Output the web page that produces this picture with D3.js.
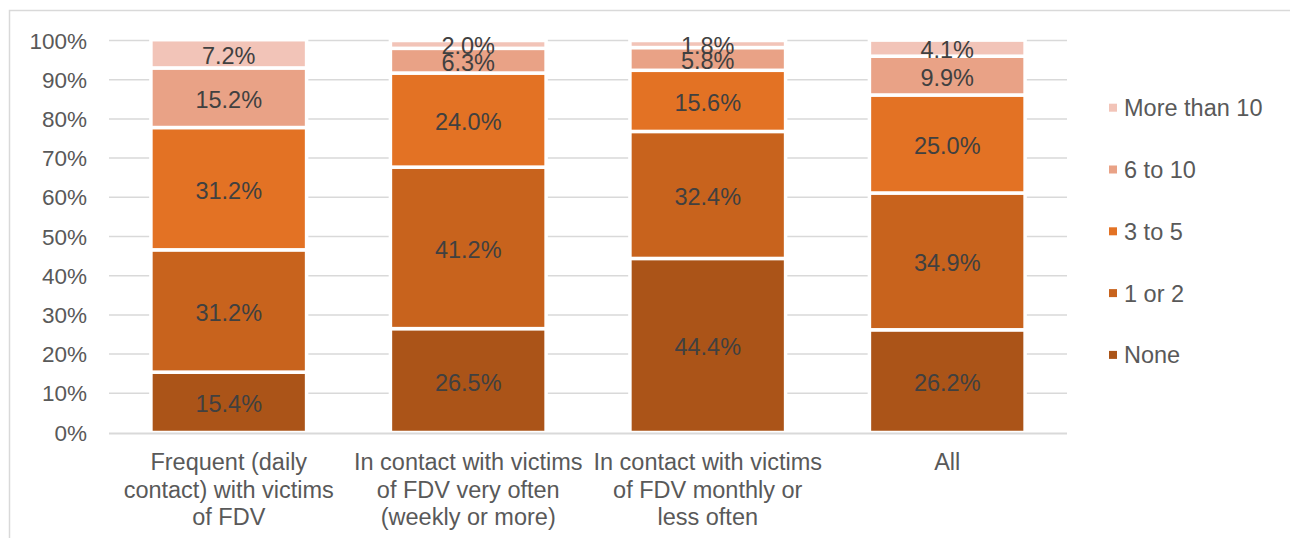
<!DOCTYPE html>
<html>
<head>
<meta charset="utf-8">
<script src="https://cdn.jsdelivr.net/npm/d3@7"></script>
<style>
  body { margin: 0; background: #fff; }
  svg { display: block; font-family: "Liberation Sans", Arial, sans-serif; }
</style>
</head>
<body>
<svg id="chart" width="1290" height="538"></svg>
<script>
// categories (x axis), each label split into its lines
var categories = ["frequent", "weekly", "monthly", "all"];
var categoryLines = [
    ["Frequent (daily", "contact) with victims", "of FDV"],
    ["In contact with victims", "of FDV very often", "(weekly or more)"],
    ["In contact with victims", "of FDV monthly or", "less often"],
    ["All"]
];

// series, bottom to top of the stack
var seriesNames = ["None", "1 or 2", "3 to 5", "6 to 10", "More than 10"];
var seriesColors = ["#ab5418", "#c8631d", "#e37224", "#e9a286", "#f2c4b8"];

// values (%) per series, one per category
var noneValues = [15.4, 26.5, 44.4, 26.2];
var oneTwoValues = [31.2, 41.2, 32.4, 34.9];
var threeFiveValues = [31.2, 24.0, 15.6, 25.0];
var sixTenValues = [15.2, 6.3, 5.8, 9.9];
var moreTenValues = [7.2, 2.0, 1.8, 4.1];

var yTicks = [0, 10, 20, 30, 40, 50, 60, 70, 80, 90, 100];

var svg = d3.select("#chart");

// outer frame of the chart object
svg.append("rect")
    .attr("x", 9.5).attr("y", 10.5)
    .attr("width", 1400).attr("height", 600)
    .attr("fill", "none")
    .attr("stroke", "#d9d9d9")
    .attr("stroke-width", 1.5);

var x = d3.scaleBand()
    .domain(categories)
    .range([109, 1067])
    .paddingInner(0.35)
    .paddingOuter(0.175);

var y = d3.scaleLinear()
    .domain([0, 100])
    .range([432.5, 40.5]);

// build rows for the stack
var table = categories.map(function(c, i) {
    return {
        cat: c,
        "None": noneValues[i],
        "1 or 2": oneTwoValues[i],
        "3 to 5": threeFiveValues[i],
        "6 to 10": sixTenValues[i],
        "More than 10": moreTenValues[i]
    };
});
var stacked = d3.stack().keys(seriesNames)(table);

// gridlines
svg.append("g").selectAll("line")
    .data(yTicks.slice(1))
    .enter().append("line")
    .attr("x1", 109).attr("x2", 1067)
    .attr("y1", function(d) { return y(d); })
    .attr("y2", function(d) { return y(d); })
    .attr("stroke", "#d9d9d9")
    .attr("stroke-width", 1.5);

// y tick labels
svg.append("g").selectAll("text")
    .data(yTicks)
    .enter().append("text")
    .attr("x", 87)
    .attr("y", function(d) { return y(d) + 8; })
    .attr("text-anchor", "end")
    .attr("fill", "#595959")
    .style("font-size", "22.5px")
    .text(function(d) { return d + "%"; });

// bars
var layer = svg.append("g").selectAll("g")
    .data(stacked)
    .enter().append("g")
    .attr("fill", function(d, i) { return seriesColors[i]; });

layer.selectAll("rect")
    .data(function(d) { return d; })
    .enter().append("rect")
    .attr("x", function(d) { return x(d.data.cat); })
    .attr("width", x.bandwidth())
    .attr("y", function(d) { return y(d[1]); })
    .attr("height", function(d) { return y(d[0]) - y(d[1]); })
    .attr("stroke", "#fff")
    .attr("stroke-width", 3.5);

// x axis line
svg.append("line")
    .attr("x1", 109).attr("x2", 1067)
    .attr("y1", y(0) + 1).attr("y2", y(0) + 1)
    .attr("stroke", "#d9d9d9")
    .attr("stroke-width", 2);

// data labels
layer.selectAll("text")
    .data(function(d) { return d; })
    .enter().append("text")
    .attr("x", function(d) { return x(d.data.cat) + x.bandwidth() / 2; })
    .attr("y", function(d) { return (y(d[0]) + y(d[1])) / 2 + 10; })
    .attr("text-anchor", "middle")
    .attr("fill", "#404040")
    .style("font-size", "23.5px")
    .text(function(d) { return (d[1] - d[0]).toFixed(1) + "%"; });

// category labels
var catLabel = svg.append("g").selectAll("text")
    .data(categories)
    .enter().append("text")
    .attr("text-anchor", "middle")
    .attr("fill", "#595959")
    .style("font-size", "23.5px");

catLabel.selectAll("tspan")
    .data(function(d, i) { return categoryLines[i].map(function(t) { return {cat: d, t: t}; }); })
    .enter().append("tspan")
    .attr("x", function(d) { return x(d.cat) + x.bandwidth() / 2; })
    .attr("y", function(d, j) { return 470 + j * 27.5; })
    .text(function(d) { return d.t; });

// legend, top entry is the top of the stack
var legendOrder = seriesNames.slice().reverse();
var legend = svg.append("g").selectAll("g")
    .data(legendOrder)
    .enter().append("g")
    .attr("transform", function(d, i) { return "translate(1109," + (107.7 + i * 61.8) + ")"; });

legend.append("rect")
    .attr("x", 0).attr("y", -4)
    .attr("width", 8).attr("height", 8)
    .attr("fill", function(d) { return seriesColors[seriesNames.indexOf(d)]; });

legend.append("text")
    .attr("x", 15)
    .attr("y", 8.5)
    .attr("fill", "#595959")
    .style("font-size", "23.5px")
    .text(function(d) { return d; });
</script>
</body>
</html>
